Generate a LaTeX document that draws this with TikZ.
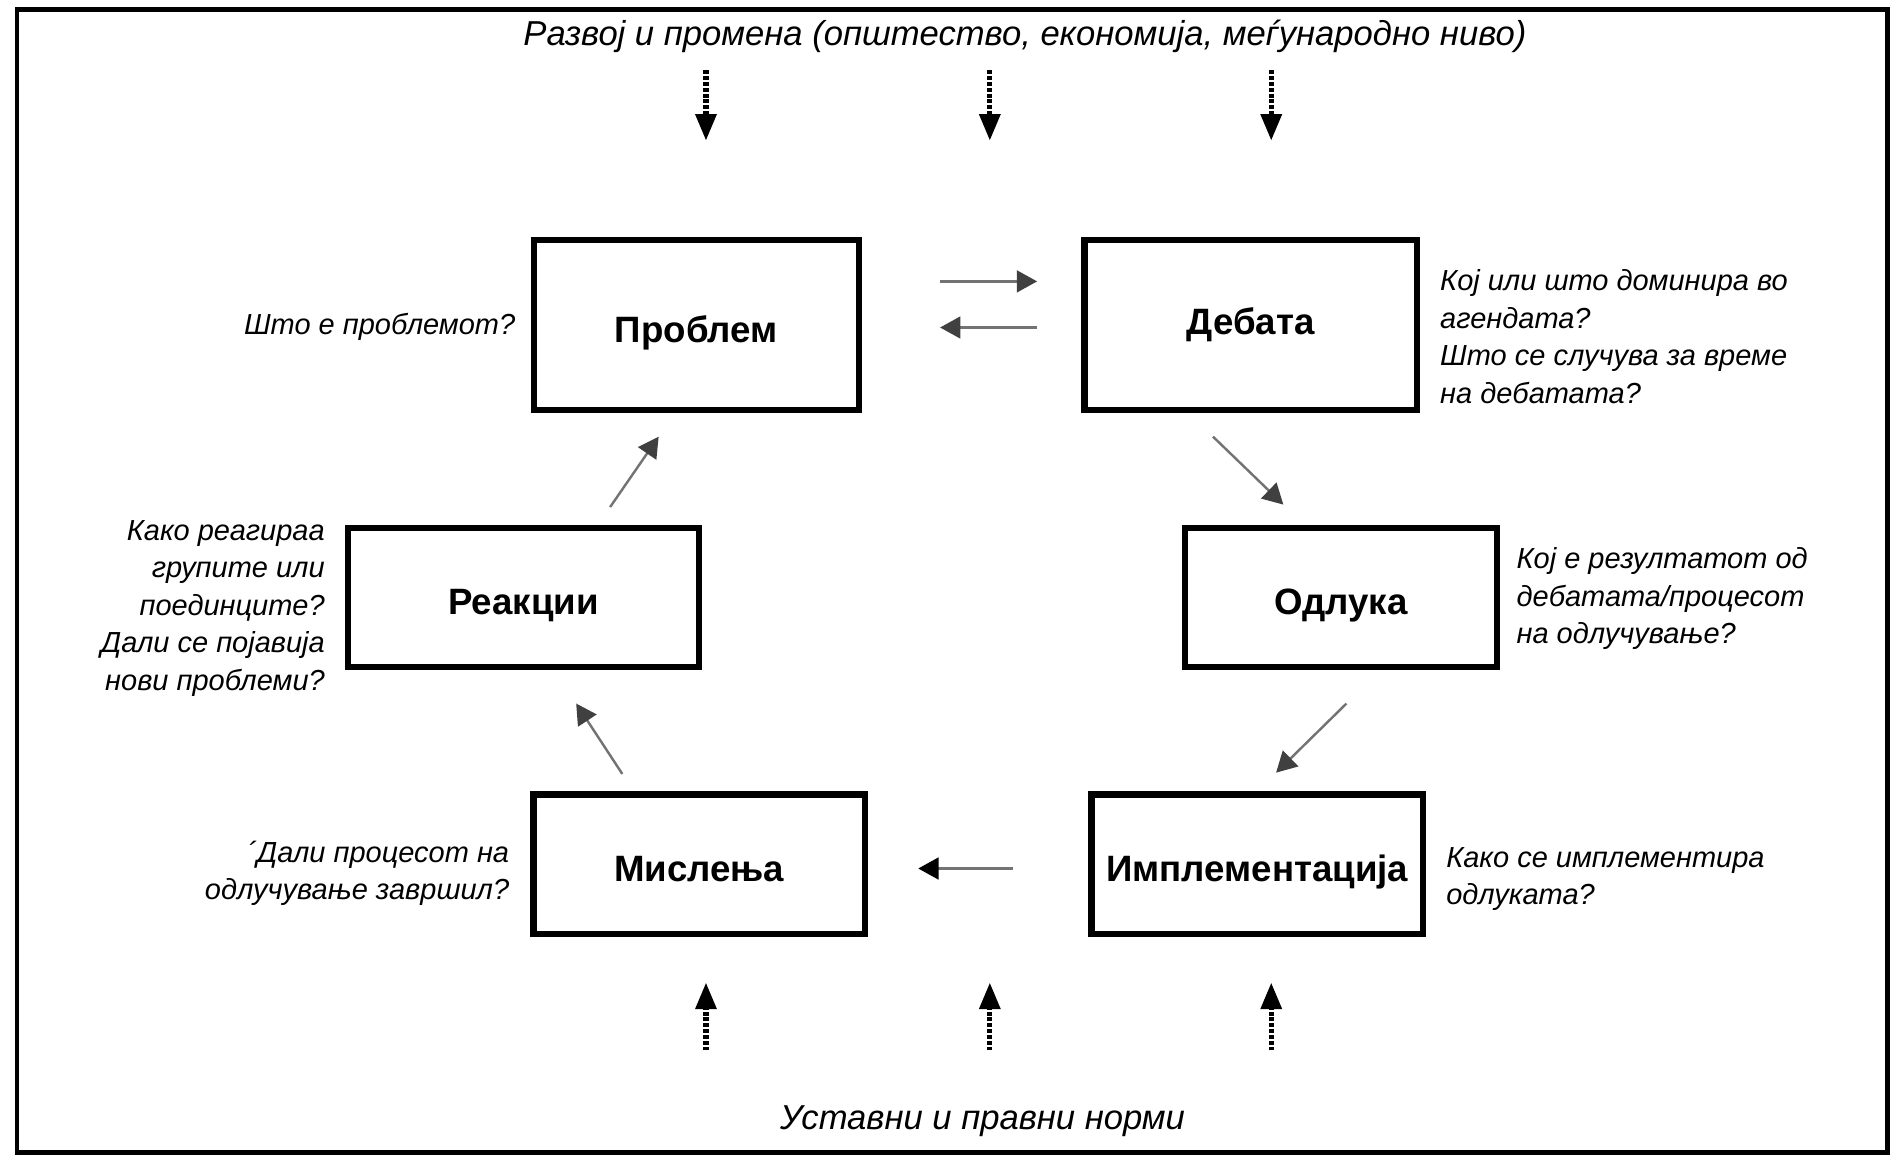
\documentclass[tikz,border=0pt]{standalone}
\usepackage{fontspec}
\setmainfont{Liberation Sans}
\usetikzlibrary{arrows.meta}

\tikzstyle{box} = [minimum height=2.875cm,rectangle,style={draw,line width=0.13cm},text height=0.9cm,text depth=0.2cm,font=\fontsize{21.5}{26}\selectfont\bfseries]
\tikzstyle{note} = [inner sep=0pt,font=\fontsize{17}{22}\selectfont\itshape]
\tikzstyle{big} = [inner sep=0pt,font=\fontsize{20.3}{24}\selectfont\itshape]
\tikzstyle{fil} = [-{Triangle[length=0.42cm,width=0.45cm,color=black!75]},style={line width=0.05cm,color=black!55}]
\tikzstyle{push} = [-{Triangle[length=0.55cm,width=0.42cm]},style={line width=0.11cm,dash pattern=on 0.08cm off 0.04cm}]

\begin{document}
\begin{tikzpicture}
	\useasboundingbox (0,0) rectangle (39.2,24.075);
	\draw[line width=0.1cm] (0.35,0.325) rectangle (38.9,23.875);

% Stages
	\node[box, minimum width=6.7cm, minimum height=3.5cm] at (14.35,17.375) (prob) {Проблем};
	\node[box, minimum width=6.85cm, minimum height=3.5cm, text height=0.6cm] at (25.775,17.375) (deb) {Дебата};
	\node[box, minimum width=7.225cm] at (10.79,11.76) (reak) {Реакции};
	\node[box, minimum width=6.425cm] at (27.64,11.76) (odl) {Одлука};
	\node[box, minimum width=6.825cm] at (14.41,6.2625) (misl) {Мислења};
	\node[box, minimum width=6.825cm] at (25.91,6.2625) (impl) {Имплементација};

% Questions
	\node[note, anchor=east] at (10.625,17.345) (probq) {Што е проблемот?};
	\node[note, anchor=west, align=left] at (29.675,17.1375) (debq) {Кој или што доминира во\\агендата?\\Што се случува за време\\на дебатата?};
	\node[note, anchor=west, align=left] at (31.25,11.7375) (odlq) {Кој е резултатот од\\дебатата/процесот\\на одлучување?};
	\node[note, anchor=east, align=right] at (6.7,11.5375) (reakq) {Како реагираа\\групите или\\поединците?\\Дали се појавија\\нови проблеми?};
	\node[note, anchor=east, align=right] at (10.5,6.075) (mislq) {´Дали процесот на\\одлучување завршил?};
	\node[note, anchor=west, align=left] at (29.8,5.9625) (implq) {Како се имплементира\\одлуката?};

% Outside influences
	\node[big] at (21.125,23.325) (razvoj) {Развој и промена (општество, економија, меѓународно ниво)};
	\node[big] at (20.25,0.975) (normi) {Уставни и правни норми};

% Cycle arrows
	\coordinate (pd1) at (19.375,18.275);
	\coordinate (pd2) at (21.375,18.275);
	\coordinate (dp1) at (21.375,17.325);
	\coordinate (dp2) at (19.375,17.325);
	\coordinate (do1) at (25,15.075);
	\coordinate (do2) at (26.45,13.675);
	\coordinate (oi1) at (27.75,9.575);
	\coordinate (oi2) at (26.3,8.15);
	\coordinate (im1) at (20.875,6.175);
	\coordinate (im2) at (18.925,6.175);
	\coordinate (mr1) at (12.825,8.125);
	\coordinate (mr2) at (11.875,9.575);
	\coordinate (rp1) at (12.575,13.625);
	\coordinate (rp2) at (13.575,15.075);
	\draw[fil] (pd1) -- (pd2);
	\draw[fil] (dp1) -- (dp2);
	\draw[fil] (do1) -- (do2);
	\draw[fil] (oi1) -- (oi2);
	\draw[fil, -{Triangle[length=0.42cm,width=0.45cm,color=black]}] (im1) -- (im2);
	\draw[fil] (mr1) -- (mr2);
	\draw[fil] (rp1) -- (rp2);

% Dotted arrows from above
	\coordinate (top1) at (14.55,22.625);
	\coordinate (top2) at (20.4,22.625);
	\coordinate (top3) at (26.2,22.625);
	\coordinate (topend1) at (14.55,21.175);
	\coordinate (topend2) at (20.4,21.175);
	\coordinate (topend3) at (26.2,21.175);
	\draw[push] (top1) -- (topend1);
	\draw[push] (top2) -- (topend2);
	\draw[push] (top3) -- (topend3);

% Dotted arrows from below
	\coordinate (bot1) at (14.55,2.425);
	\coordinate (bot2) at (20.4,2.425);
	\coordinate (bot3) at (26.2,2.425);
	\coordinate (botend1) at (14.55,3.825);
	\coordinate (botend2) at (20.4,3.825);
	\coordinate (botend3) at (26.2,3.825);
	\draw[push] (bot1) -- (botend1);
	\draw[push] (bot2) -- (botend2);
	\draw[push] (bot3) -- (botend3);

\end{tikzpicture}
\end{document}
